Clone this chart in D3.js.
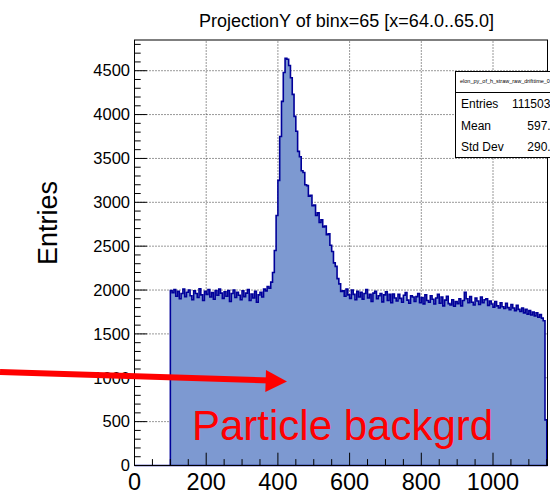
<!DOCTYPE html>
<html>
<head>
<meta charset="utf-8">
<script src="https://cdn.jsdelivr.net/npm/d3@7"></script>
<style>
  body { margin: 0; background: #fff; }
  svg { display: block; font-family: "Liberation Sans", Arial, Helvetica, sans-serif; }
</style>
</head>
<body>
<div id="d3-container"></div>
<script>
/**
 * DATA
 * */
const title = "ProjectionY of binx=65 [x=64.0..65.0]";
const yTitle = "Entries";
const xTicks = [0, 200, 400, 600, 800, 1000];
const yTicks = [0, 500, 1000, 1500, 2000, 2500, 3000, 3500, 4000, 4500];
const xRange = [0, 1152];
const yRange = [0, 4850];

// histogram, 5 unit bins starting at x=100
const binStart = 100;
const binWidth = 5;
// flat part before the peak (100 .. 370)
const plateauLow = [
  1995, 1970, 2005, 1930, 1985, 1900, 1960, 2010, 1925, 1975,
  2000, 1935, 1890, 1990, 1960, 1915, 2015, 1945, 1880, 1985,
  1950, 2005, 1920, 1970, 1895, 1995, 1940, 2010, 1965, 1905,
  1980, 1930, 1995, 1870, 1960, 2000, 1915, 1975, 1940, 1890,
  1990, 1925, 1965, 2005, 1880, 1955, 1910, 1985, 1860, 1945,
  1975, 1920, 2010, 1990, 2040
];
// the peak (375 .. 575)
const peak = [
  2020, 2090, 2200, 2450, 2850, 3250, 3750, 4150, 4480, 4640,
  4630, 4560, 4420, 4230, 3980, 3810, 3580, 3520, 3360, 3340,
  3200, 3190, 3070, 3080, 2960, 2970, 2850, 2880, 2770, 2800,
  2720, 2730, 2630, 2640, 2510, 2440, 2310, 2270, 2130, 2070,
  1985
];
// flat part after the peak (580 .. 1145)
const plateauHigh = [
  1990, 1930, 2010, 1945, 1905, 2000, 1950, 1890, 1985, 1920,
  1975, 1895, 1960, 2005, 1910, 1950, 1870, 1965, 1985, 1900,
  1935, 1960, 1865, 1945, 1980, 1880, 1950, 1855, 1955, 1910,
  1875, 1950, 1905, 1860, 1940, 1970, 1885, 1850, 1935, 1920,
  1870, 1925, 1960, 1855, 1915, 1840, 1945, 1880, 1860, 1935,
  1895, 1840, 1910, 1950, 1850, 1920, 1820, 1885, 1930, 1845,
  1830, 1890, 1815, 1870, 1845, 1900, 1820, 1880, 1975, 1900,
  1855, 1925, 1860, 1830, 1910, 1875, 1835, 1920, 1855, 1890,
  1900, 1825, 1875, 1840, 1805, 1870, 1820, 1795, 1855, 1810,
  1790, 1850, 1800, 1775, 1835, 1795, 1765, 1825, 1780, 1755,
  1795, 1740, 1780, 1725, 1765, 1715, 1750, 1705, 1740, 1690,
  1720, 1680, 1650, 520
];

// stats box
const statsName = "elon_py_of_h_straw_raw_drifttime_0";
const statsLabels = ["Entries", "Mean", "Std Dev"];
const statsValues = ["1115034", "597.88", "290.55"];

const noteText = "Particle backgrd";

/**
 * CONSTANTS
 * */
const width = 550,
  height = 492,
  margin = { top: 40, bottom: 26.5, left: 134.5, right: 2.5 };

const fillColor = "#7d99d1";
const lineColor = "#000099";

/**
 * INIT
 * */
const counts = plateauLow.concat(peak, plateauHigh);
const bins = counts.map((c, i) => ({
  x0: binStart + i * binWidth,
  x1: binStart + (i + 1) * binWidth,
  value: c
}));

const svg = d3.select("#d3-container")
  .append("svg")
  .attr("width", width)
  .attr("height", height);

const xScale = d3.scaleLinear()
  .domain(xRange)
  .range([margin.left, width - margin.right]);

const yScale = d3.scaleLinear()
  .domain(yRange)
  .range([height - margin.bottom, margin.top]);

// + GRID (dotted, behind histogram)
svg.append("g")
  .selectAll("line")
  .data(xTicks.filter(d => d > 0))
  .join("line")
  .attr("x1", d => xScale(d))
  .attr("x2", d => xScale(d))
  .attr("y1", yScale.range()[0])
  .attr("y2", yScale.range()[1])
  .attr("stroke", "#333")
  .attr("stroke-dasharray", "1,2");

svg.append("g")
  .selectAll("line")
  .data(yTicks.filter(d => d > 0))
  .join("line")
  .attr("x1", xScale.range()[0])
  .attr("x2", xScale.range()[1])
  .attr("y1", d => yScale(d))
  .attr("y2", d => yScale(d))
  .attr("stroke", "#333")
  .attr("stroke-dasharray", "1,2");

// + HISTOGRAM AS STEP PATH
const pts = [[xRange[0], 0], [bins[0].x0, 0]];
bins.forEach(b => {
  pts.push([b.x0, b.value]);
  pts.push([b.x1, b.value]);
});
pts.push([bins[bins.length - 1].x1, 0]);
pts.push([xRange[1], 0]);

const line = d3.line()
  .x(d => xScale(d[0]))
  .y(d => yScale(d[1]));

svg.append("path")
  .attr("d", line(pts) + "Z")
  .attr("fill", fillColor)
  .attr("stroke", lineColor)
  .attr("stroke-width", 1.6)
  .attr("stroke-linejoin", "miter");

// + AXES (ticks drawn inside the frame, root style)
const tickLenX = 12.8, tickLenY = 12.4;

const gx = svg.append("g");
gx.selectAll("line")
  .data(d3.range(0, xRange[1] + 1, 50))
  .join("line")
  .attr("x1", d => xScale(d))
  .attr("x2", d => xScale(d))
  .attr("y1", yScale(0))
  .attr("y2", d => yScale(0) - (d % 200 === 0 ? tickLenX : tickLenX / 2))
  .attr("stroke", "#000");
gx.selectAll("text")
  .data(xTicks)
  .join("text")
  .attr("x", d => xScale(d))
  .attr("y", 490)
  .attr("text-anchor", "middle")
  .attr("font-size", 23.5)
  .text(d => d);

const gy = svg.append("g");
gy.selectAll("line")
  .data(d3.range(0, yRange[1], 100))
  .join("line")
  .attr("x1", xScale(0))
  .attr("x2", d => xScale(0) + (d % 500 === 0 ? tickLenY : tickLenY / 2))
  .attr("y1", d => yScale(d))
  .attr("y2", d => yScale(d))
  .attr("stroke", "#000");
gy.selectAll("text")
  .data(yTicks)
  .join("text")
  .attr("x", 130)
  .attr("y", d => yScale(d))
  .attr("dy", "0.35em")
  .attr("text-anchor", "end")
  .attr("font-size", 16.5)
  .text(d => d);

// + FRAME
svg.append("rect")
  .attr("x", xScale.range()[0])
  .attr("y", yScale.range()[1])
  .attr("width", xScale.range()[1] - xScale.range()[0])
  .attr("height", yScale.range()[0] - yScale.range()[1])
  .attr("fill", "none")
  .attr("stroke", "#000")
  .attr("stroke-width", 1);

// + TITLES
svg.append("text")
  .attr("x", 346.5)
  .attr("y", 27)
  .attr("text-anchor", "middle")
  .attr("font-size", 18)
  .text(title);

svg.append("text")
  .attr("transform", "translate(57,223) rotate(-90)")
  .attr("text-anchor", "middle")
  .attr("font-size", 27)
  .text(yTitle);

// + STATS BOX
const stats = svg.append("g");
stats.append("rect")
  .attr("x", 455.5)
  .attr("y", 71.5)
  .attr("width", 120)
  .attr("height", 86)
  .attr("fill", "#fff")
  .attr("stroke", "#000");
stats.append("line")
  .attr("x1", 455.5).attr("x2", 575)
  .attr("y1", 92.5).attr("y2", 92.5)
  .attr("stroke", "#000");
stats.append("text")
  .attr("x", 460)
  .attr("y", 83)
  .attr("font-size", 5.5)
  .text(statsName);
statsLabels.forEach((lab, i) => {
  stats.append("text")
    .attr("x", 461)
    .attr("y", 108 + i * 21.5)
    .attr("font-size", 12)
    .text(lab);
  stats.append("text")
    .attr("x", i === 0 ? 557 : 564)
    .attr("y", 108 + i * 21.5)
    .attr("text-anchor", "end")
    .attr("font-size", 12)
    .text(statsValues[i]);
});

// + ANNOTATION
const arrow = svg.append("g").attr("fill", "#ff0000").attr("stroke", "none");
arrow.append("line")
  .attr("x1", 0).attr("y1", 372)
  .attr("x2", 270).attr("y2", 380.5)
  .attr("stroke", "#ff0000")
  .attr("stroke-width", 6);
arrow.append("path")
  .attr("d", "M287,381.5 L266,370 L265.3,392 Z");

svg.append("text")
  .attr("x", 192)
  .attr("y", 440)
  .attr("font-size", 42)
  .attr("fill", "#ff0000")
  .text(noteText);
</script>
</body>
</html>
